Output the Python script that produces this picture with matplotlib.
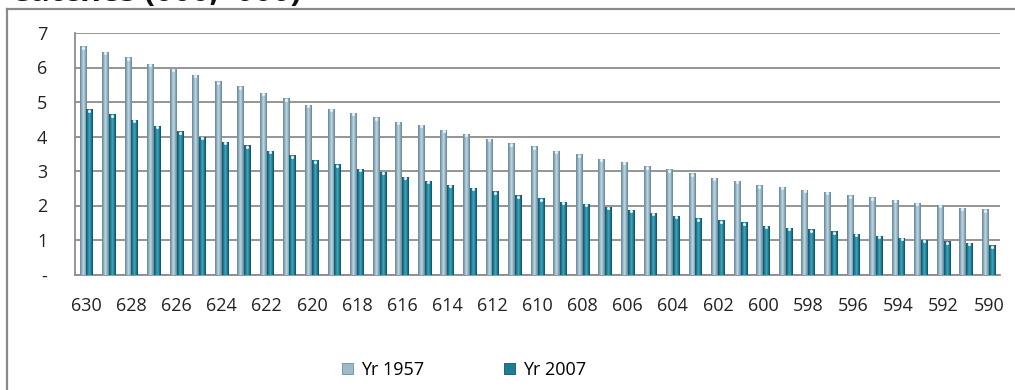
import numpy as np
import matplotlib
matplotlib.use("Agg")
import matplotlib.pyplot as plt
from matplotlib.colors import LinearSegmentedColormap
from matplotlib.lines import Line2D
from matplotlib.patches import Patch

plt.rcParams['font.family'] = ['Open Sans', 'DejaVu Sans']

# categories run from 630 down to 590
categories = list(range(630, 589, -1))
tick_labels = [str(c) if (630 - c) % 2 == 0 else '' for c in categories]

yr_1957 = [6.61, 6.45, 6.29, 6.11, 5.96, 5.78, 5.60, 5.45, 5.26, 5.11,
           4.92, 4.80, 4.68, 4.56, 4.43, 4.34, 4.19, 4.08, 3.93, 3.80,
           3.72, 3.59, 3.48, 3.35, 3.26, 3.14, 3.05, 2.93, 2.81, 2.72,
           2.59, 2.54, 2.46, 2.39, 2.29, 2.24, 2.17, 2.08, 2.02, 1.94,
           1.89]
yr_2007 = [4.79, 4.64, 4.49, 4.31, 4.15, 4.00, 3.85, 3.74, 3.58, 3.46,
           3.31, 3.19, 3.07, 2.97, 2.84, 2.72, 2.60, 2.51, 2.41, 2.29,
           2.21, 2.11, 2.05, 1.97, 1.88, 1.78, 1.71, 1.63, 1.57, 1.51,
           1.42, 1.36, 1.31, 1.25, 1.18, 1.12, 1.06, 1.01, 0.96, 0.91,
           0.85]

series_names = ['Yr 1957', 'Yr 2007']

# cylinder-like shading across each bar: edge, body, highlight, body, edge
cmap_1957 = LinearSegmentedColormap.from_list(
    'c57', ['#68879a', '#8aacbd', '#c4dbe5', '#8fb0c0', '#658394'])
cmap_2007 = LinearSegmentedColormap.from_list(
    'c07', ['#0f5568', '#1e7d95', '#45a8c0', '#1f7c93', '#0d4e60'])

W, H = 1015, 390
fig = plt.figure(figsize=(W / 100, H / 100), dpi=100)
ax = fig.add_axes([75 / W, 1 - 274.5 / H, 925 / W, (274.5 - 33) / H])

x = np.arange(len(categories))
bw = 0.3
grad = np.linspace(0, 1, 64)[np.newaxis, :]


def shaded_bars(xpos, vals, cmap, face, name):
    bars = ax.bar(xpos, vals, width=bw, color=face, zorder=2, label=name, linewidth=0)
    for b in bars:
        x0, w, h = b.get_x(), b.get_width(), b.get_height()
        im = ax.imshow(grad, cmap=cmap, extent=(x0, x0 + w, 0, h),
                       aspect='auto', zorder=3, interpolation='bilinear')
        im.set_clip_path(b)
    # little glint at the top of each cylinder
    ax.scatter(xpos - bw * 0.05, np.array(vals) - 0.04, s=5, color='#e4f1f6',
               zorder=4, linewidths=0)
    return bars


shaded_bars(x - bw / 2, yr_1957, cmap_1957, '#8aacbd', series_names[0])
shaded_bars(x + bw / 2, yr_2007, cmap_2007, '#1e7d95', series_names[1])

ax.set_xlim(-0.5, len(categories) - 0.5)
ax.set_ylim(0, 7)
ax.set_yticks(range(0, 8))
ax.set_yticklabels(['-'] + [str(i) for i in range(1, 8)])
ax.set_xticks(x)
ax.set_xticklabels(tick_labels)
ax.tick_params(axis='y', length=0, pad=20, labelsize=13, labelcolor='#222222')
ax.tick_params(axis='x', length=0, pad=16, labelsize=13, labelcolor='#222222')

ax.yaxis.grid(True, color='#8c8c8c', linewidth=1.3, zorder=0)
ax.set_axisbelow(True)
for side in ['top', 'right']:
    ax.spines[side].set_visible(False)
ax.spines['left'].set_color('#8c8c8c')
ax.spines['left'].set_linewidth(1.3)
ax.spines['bottom'].set_color('#8c8c8c')
ax.spines['bottom'].set_linewidth(1.3)

# legend below the category labels
handles = [Patch(facecolor='#9dbccb', edgecolor='#6d8c9c', linewidth=0.6),
           Patch(facecolor='#1e7d95', edgecolor='#0f5568', linewidth=0.6)]
fig.legend(handles, series_names, loc='center', bbox_to_anchor=(464 / W, 1 - 370 / H),
           ncol=2, frameon=False, fontsize=13, handlelength=0.6, handleheight=0.6,
           handletextpad=0.45, columnspacing=4.4)

# outer chart frame (left and top edges)
frame = dict(transform=fig.transFigure, color='#8a8a8a', linewidth=1.6)
fig.add_artist(Line2D([7 / W, 7 / W], [0, 1 - 9 / H], **frame))
fig.add_artist(Line2D([7 / W, 1], [1 - 9 / H, 1 - 9 / H], **frame))

# heading sitting above the frame
fig.text(10 / W, 1 - 1 / H, "Catches (000, '000)", fontsize=23, fontweight='bold',
         va='baseline', ha='left', color='#111111')

fig.savefig('out.png', dpi=100)
